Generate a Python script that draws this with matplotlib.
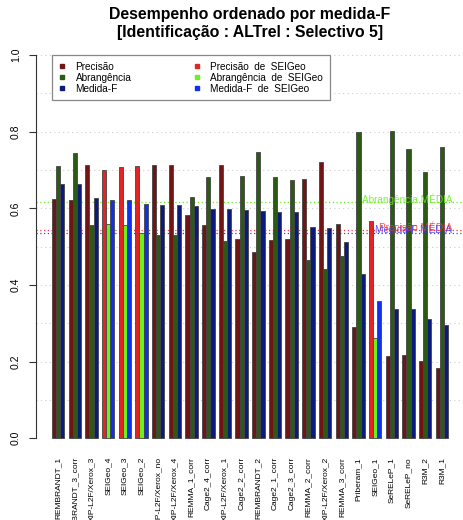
import numpy as np
import matplotlib
matplotlib.use("Agg")
import matplotlib.pyplot as plt
from matplotlib.lines import Line2D

plt.rcParams['font.family'] = ['Liberation Sans', 'DejaVu Sans']

# Data
systems = ['REMBRANDT_1', 'REMBRANDT_3_corr', 'XIP-L2F/Xerox_3', 'SEIGeo_4',
           'SEIGeo_3', 'SEIGeo_2', 'XIP-L2F/Xerox_no', 'XIP-L2F/Xerox_4',
           'REMMA_1_corr', 'Cage2_4_corr', 'XIP-L2F/Xerox_1', 'Cage2_2_corr',
           'REMBRANDT_2', 'Cage2_1_corr', 'Cage2_3_corr', 'REMMA_2_corr',
           'XIP-L2F/Xerox_2', 'REMMA_3_corr', 'Priberam_1', 'SEIGeo_1',
           'SeRELeP_1', 'SeRELeP_no', 'R3M_2', 'R3M_1']
precisao = [0.624, 0.623, 0.713, 0.701, 0.708, 0.710, 0.713, 0.713, 0.583,
            0.557, 0.714, 0.521, 0.487, 0.517, 0.521, 0.677, 0.722, 0.559,
            0.290, 0.567, 0.214, 0.217, 0.202, 0.183]
abrangencia = [0.710, 0.745, 0.557, 0.559, 0.556, 0.535, 0.530, 0.530, 0.630,
               0.683, 0.514, 0.684, 0.748, 0.683, 0.673, 0.466, 0.441, 0.476,
               0.800, 0.261, 0.802, 0.756, 0.696, 0.761]
medida_f = [0.664, 0.663, 0.626, 0.623, 0.623, 0.610, 0.608, 0.608, 0.605,
            0.599, 0.599, 0.595, 0.593, 0.590, 0.590, 0.552, 0.548, 0.513,
            0.429, 0.359, 0.338, 0.337, 0.312, 0.295]
seigeo = ['SEIGeo_1', 'SEIGeo_2', 'SEIGeo_3', 'SEIGeo_4']

cols_base = ['#701414', '#2b5a12', '#0b1a7d']
cols_sei = ['#e42424', '#6cf21a', '#1030f0']
mean_cols = ['#ff3a3a', '#66ee22', '#3a3aff']

fig = plt.figure(figsize=(4.64, 5.2), dpi=100)
ax = fig.add_axes([36 / 464, 1 - 453.6 / 520, 428 / 464, (453.6 - 39.7) / 520])

n = len(systems)
start = 1 + 4 * np.arange(n)
series = [precisao, abrangencia, medida_f]

# grid
for g in np.arange(0.1, 1.01, 0.1):
    ax.axhline(g, color='#cccccc', lw=0.8, ls=(0, (1, 3)), zorder=0)

# mean lines
means = [np.mean(s) for s in series]
names_mean = ['Precisão MÉDIA', 'Abrangência MÉDIA', 'Medida-F MÉDIA']
for m, c in zip(means, mean_cols):
    ax.axhline(m, color=c, lw=0.9, ls=(0, (1, 2)), zorder=1)

for k, s in enumerate(series):
    colors = [cols_sei[k] if systems[i] in seigeo else cols_base[k] for i in range(n)]
    ax.bar(start + k + 0.5, s, width=1.0, color=colors, edgecolor='#444444',
           linewidth=0.6, zorder=2)

for m, c, t in zip(means, mean_cols, names_mean):
    ax.text(0.972, m + 0.006, t, transform=ax.get_yaxis_transform(),
            ha='right', va='center', color=c, fontsize=7.2, alpha=0.85, zorder=3)

ax.set_xlim(-2.8, 99.8)
ax.set_ylim(-0.04, 1.04)
ax.set_xticks(start + 1.5)
ax.set_xticklabels(systems, rotation=90, fontsize=6.0, va='top')
ax.tick_params(axis='x', length=0, pad=2.5)
ax.set_yticks(np.arange(0, 1.01, 0.2))
ax.set_yticklabels(['0.0', '0.2', '0.4', '0.6', '0.8', '1.0'], rotation=90,
                   va='center', fontsize=7.5)
ax.tick_params(axis='y', length=5, width=0.8, pad=6, color='#333333')
for sp in ['top', 'right', 'bottom']:
    ax.spines[sp].set_visible(False)
ax.spines['left'].set_bounds(0, 1)
ax.spines['left'].set_color('#333333')
ax.spines['left'].set_linewidth(0.8)

handles = []
labels = ['Precisão', 'Abrangência', 'Medida-F',
          'Precisão  de  SEIGeo', 'Abrangência  de  SEIGeo', 'Medida-F  de  SEIGeo']
for c in cols_base + cols_sei:
    handles.append(Line2D([], [], ls='none', marker='s', markersize=3,
                          markerfacecolor=c, markeredgecolor=c))
leg = ax.legend(handles, labels, ncol=2, loc='upper left',
                bbox_to_anchor=(52 / 464, 1 - 55 / 520),
                bbox_transform=fig.transFigure, borderaxespad=0,
                fontsize=7.2, handlelength=0.8, handletextpad=0.9,
                columnspacing=6.2, labelspacing=0.12, borderpad=0.65,
                fancybox=False, framealpha=1, edgecolor='#888888')
leg.get_frame().set_linewidth(0.9)
leg.set_zorder(5)

fig.text(250 / 464, 1 - 15 / 520, 'Desempenho ordenado por medida-F',
         ha='center', va='center', fontsize=11.4, fontweight='bold')
fig.text(250 / 464, 1 - 33 / 520, '[Identificação : ALTrel : Selectivo 5]',
         ha='center', va='center', fontsize=11.4, fontweight='bold')

fig.savefig('out.png', dpi=100)
